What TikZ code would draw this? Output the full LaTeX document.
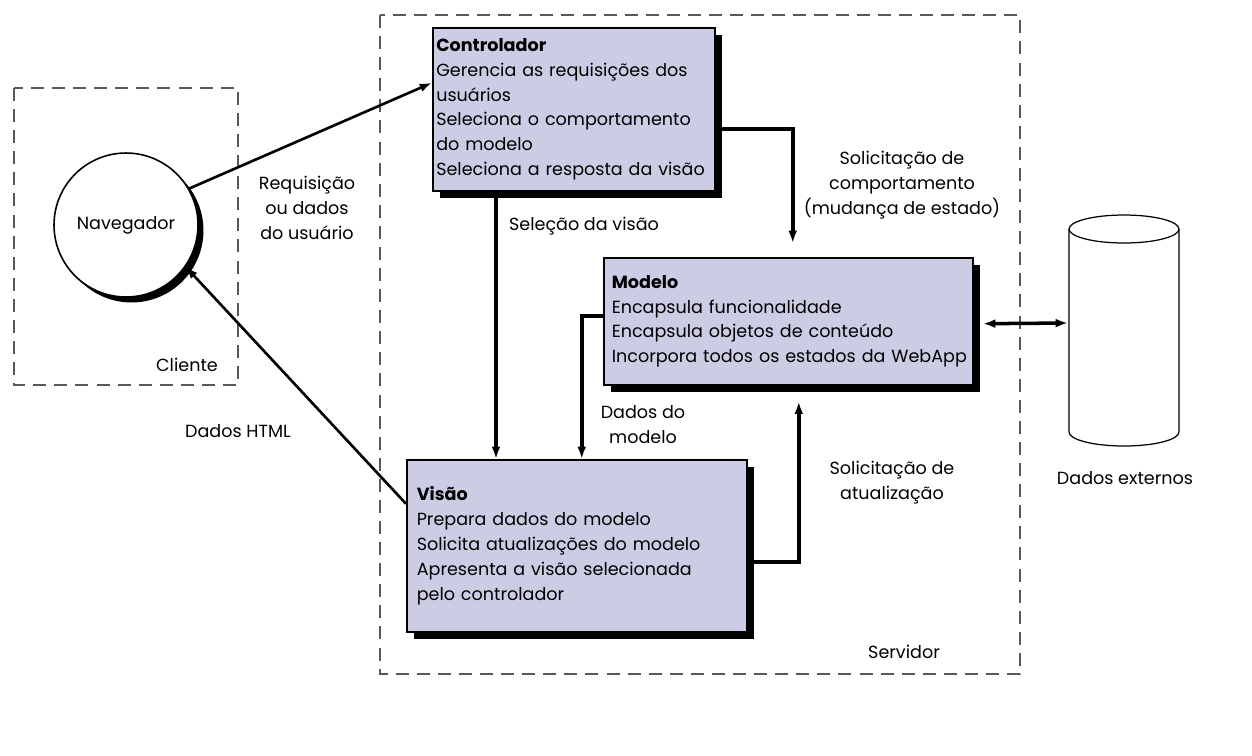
\documentclass[tikz,border=0pt]{standalone}
\usepackage{fontspec}
\setmainfont{Poppins}
\usetikzlibrary{arrows.meta,shadows}
\definecolor{lilas}{RGB}{204,205,228}

\begin{document}
\begin{tikzpicture}[x=0.02cm,y=-0.02cm,
	every node/.style={font=\fontsize{10}{14.2}\selectfont},
	caixa/.style={draw, line width=0.9pt, fill=lilas, anchor=north west, align=left,
		drop shadow={shadow xshift=0.15cm, shadow yshift=-0.15cm, fill=black, opacity=1}},
	fio/.style={line width=1.5pt, -{Latex[length=7pt,width=5pt]}},
	grosso/.style={line width=2pt, -{Latex[length=7pt,width=5pt]}},
	rotulo/.style={align=center, inner sep=0pt},
	limite/.style={gray!70!black, line width=0.8pt, dash pattern=on 7.4pt off 4.6pt}]
\useasboundingbox (0,0) rectangle (1252,755);

\draw[limite] (14,88) rectangle (238,385);
\draw[limite] (380,15) rectangle (1020,674);

\node[circle, draw, line width=0.9pt, fill=white, minimum size=2.88cm, inner sep=0pt,
	drop shadow={shadow xshift=0.11cm, shadow yshift=-0.11cm, fill=black, opacity=1}] (Nav) at (126,225) {Navegador};

\node[caixa, minimum width=5.64cm, minimum height=3.26cm, inner xsep=0.07cm, text width=5.5cm] (Ctrl) at (432,27)
	{\textbf{Controlador}\\Gerencia as requisições dos\\usuários\\Seleciona o comportamento\\do modelo\\Seleciona a resposta da visão};
\node[caixa, minimum width=7.38cm, minimum height=2.54cm, inner xsep=0.16cm, text width=7.06cm] (Mod) at (603,257)
	{\textbf{Modelo}\\Encapsula funcionalidade\\Encapsula objetos de conteúdo\\\mbox{Incorpora todos os estados da WebApp}};
\node[caixa, minimum width=6.8cm, minimum height=3.44cm, inner xsep=0.2cm, text width=6.4cm] (Vis) at (406,459)
	{\textbf{Visão}\\Prepara dados do modelo\\Solicita atualizações do modelo\\Apresenta a visão selecionada\\pelo controlador};

% banco de dados externo
\def\rx{1.1cm}
\def\ry{0.28cm}
\draw[line width=0.7pt] (1069,229) -- (1069,432) arc[start angle=180, end angle=360, x radius=\rx, y radius=\ry] -- (1179,229);
\draw[line width=0.7pt] (1124,229) ellipse [x radius=\rx, y radius=\ry];
\coordinate (DB) at (1068,323);

\draw[fio] (Nav.30) -- ([yshift=0.53cm]Ctrl.west);
\draw[fio] ([yshift=0.84cm]Vis.west) -- (Nav.-35);
\draw[grosso] ([xshift=1.28cm]Ctrl.south west) -- ([xshift=1.28cm]Ctrl.south west |- Vis.north);
\draw[grosso, shorten >=0.28cm] ([yshift=-0.39cm]Ctrl.east) -| ([xshift=0.09cm]Mod.north);
\draw[grosso] ([yshift=0.11cm]Mod.west) -| ([xshift=0.1cm]Vis.north);
\draw[grosso, shorten >=0.32cm] ([yshift=-0.32cm]Vis.east) -| ([xshift=0.21cm]Mod.south);
\draw[grosso, {Latex[length=7pt,width=5pt]}-{Latex[length=7pt,width=5pt]}, shorten <=0.19cm] ([yshift=-0.05cm]Mod.east) -- (DB);

\node[rotulo] (Req) at (307,208) {Requisição\\ou dados\\do usuário};
\node[rotulo] (Html) at (238,431) {Dados HTML};
\node[rotulo] (Cli) at (187,365) {Cliente};
\node[rotulo] (Sel) at (584,226) {Seleção da visão};
\node[rotulo] (Comp) at (902,185) {Solicitação de\\comportamento\\(mudança de estado)};
\node[rotulo] (DadMod) at (643,425) {Dados do\\modelo};
\node[rotulo] (Atu) at (892,483) {Solicitação de\\atualização};
\node[rotulo] (Ext) at (1125,478) {Dados externos};
\node[rotulo] (Serv) at (904,652) {Servidor};

\end{tikzpicture}
\end{document}
